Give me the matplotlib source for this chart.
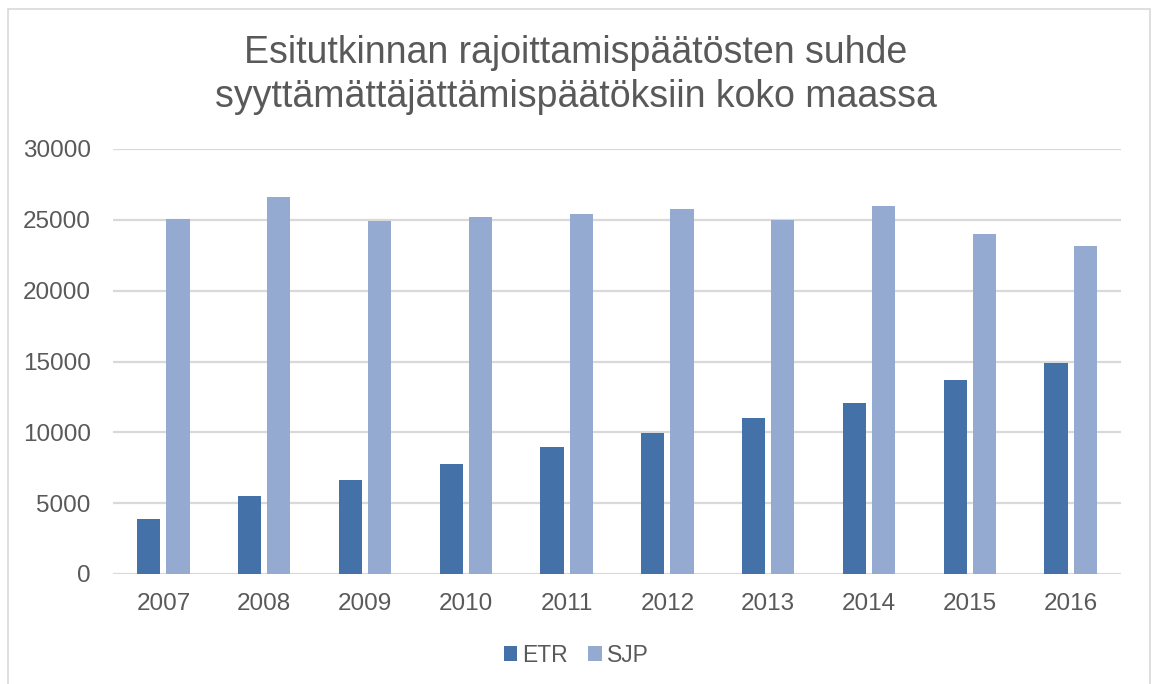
import matplotlib
matplotlib.use("Agg")
import matplotlib.pyplot as plt
import numpy as np
from matplotlib.patches import Rectangle

plt.rcParams['font.family'] = ['Liberation Sans', 'DejaVu Sans']

years = ['2007', '2008', '2009', '2010', '2011', '2012', '2013', '2014', '2015', '2016']
etr = [3880, 5500, 6630, 7760, 8960, 9950, 11000, 12070, 13690, 14890]
sjp = [25050, 26600, 24910, 25190, 25410, 25760, 24980, 25970, 23990, 23150]

text_color = '#595959'
etr_color = '#4472a8'
sjp_color = '#95aad1'

fig = plt.figure(figsize=(11.52, 6.84), dpi=100)
# outer chart frame
fig.patches.append(Rectangle((8 / 1152, -0.01), 1142 / 1152, 1 - 9 / 684 + 0.01,
                             transform=fig.transFigure, fill=False,
                             edgecolor='#d9d9d9', linewidth=1.2))

ax = fig.add_axes([113 / 1152, 1 - 574 / 684, 1008 / 1152, 425 / 684])

x = np.arange(len(years))
w = 0.23
ax.bar(x - 0.145, etr, w, color=etr_color, label='ETR', zorder=3)
ax.bar(x + 0.145, sjp, w, color=sjp_color, label='SJP', zorder=3)

ax.set_xlim(-0.5, len(years) - 0.5)
ax.set_ylim(0, 30000)
ax.set_yticks(np.arange(0, 30001, 5000))
ax.set_xticks(x)
ax.set_xticklabels(years)
ax.yaxis.grid(True, color='#d9d9d9', linewidth=1.6, zorder=0)
ax.set_axisbelow(True)
for s in ax.spines.values():
    s.set_visible(False)
ax.tick_params(axis='both', length=0, labelsize=17.5, colors=text_color)
ax.tick_params(axis='x', pad=14)
ax.tick_params(axis='y', pad=16)

fig.text(0.5, 1 - 75 / 684,
         'Esitutkinnan rajoittamispäätösten suhde\nsyyttämättäjättämispäätöksiin koko maassa',
         ha='center', va='center', fontsize=27, color=text_color, linespacing=1.3)

fig.legend(loc='center', bbox_to_anchor=(0.5, 1 - 655 / 684), ncol=2, frameon=False,
           fontsize=16.5, labelcolor=text_color, handlelength=0.6, handleheight=0.6,
           handletextpad=0.2, columnspacing=0.9)

fig.savefig('out.png', dpi=100)
